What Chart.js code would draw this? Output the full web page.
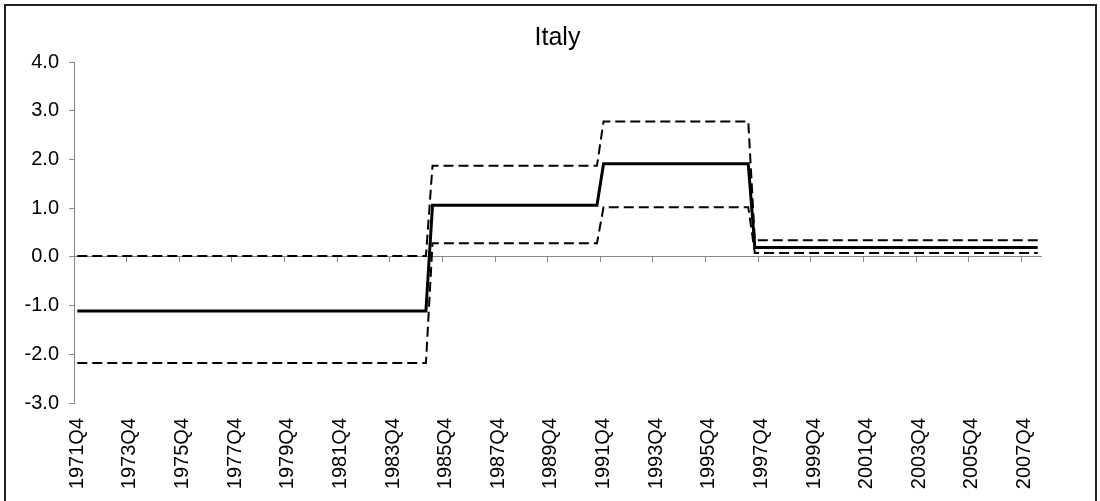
<!DOCTYPE html>
<html><head><meta charset="utf-8">
<script src="https://cdn.jsdelivr.net/npm/chart.js@4.4.1/dist/chart.umd.min.js"></script>
<style>
html,body{margin:0;padding:0;background:#fff;}
#wrap{position:relative;width:1100px;height:501px;overflow:hidden;}
#frame{position:absolute;left:4px;top:4px;width:1089px;height:520px;border:2px solid #222;pointer-events:none;}
canvas{position:absolute;left:0;top:0;}
</style></head><body>
<div id="wrap"><canvas id="c" width="1100" height="501"></canvas><div id="frame"></div></div>
<script>
// Categories: quarters from 1971Q4 to 2008Q2
const startYear = 1971, startQuarter = 4, nQuarters = 147;
const categories = [];
for (let i = 0; i < nQuarters; i++) {
  const q = startQuarter - 1 + i;
  categories.push((startYear + Math.floor(q / 4)) + 'Q' + (q % 4 + 1));
}
const labelEvery = 8;

// Estimate (solid)
const estimate = [
  -1.11,-1.11,-1.11,-1.11,-1.11,-1.11,-1.11,-1.11,-1.11,
  -1.11,-1.11,-1.11,-1.11,-1.11,-1.11,-1.11,-1.11,-1.11,
  -1.11,-1.11,-1.11,-1.11,-1.11,-1.11,-1.11,-1.11,-1.11,
  -1.11,-1.11,-1.11,-1.11,-1.11,-1.11,-1.11,-1.11,-1.11,
  -1.11,-1.11,-1.11,-1.11,-1.11,-1.11,-1.11,-1.11,-1.11,
  -1.11,-1.11,-1.11,-1.11,-1.11,-1.11,-1.11,-1.11,-1.11,
  1.06,1.06,1.06,1.06,1.06,1.06,1.06,1.06,1.06,1.06,1.06,1.06,1.06,
  1.06,1.06,1.06,1.06,1.06,1.06,1.06,1.06,1.06,1.06,1.06,1.06,1.06,
  1.91,1.91,1.91,1.91,1.91,1.91,1.91,1.91,1.91,1.91,1.91,1.91,
  1.91,1.91,1.91,1.91,1.91,1.91,1.91,1.91,1.91,1.91,1.91,
  0.19,0.19,0.19,0.19,0.19,0.19,0.19,0.19,0.19,0.19,0.19,
  0.19,0.19,0.19,0.19,0.19,0.19,0.19,0.19,0.19,0.19,0.19,
  0.19,0.19,0.19,0.19,0.19,0.19,0.19,0.19,0.19,0.19,0.19,
  0.19,0.19,0.19,0.19,0.19,0.19,0.19,0.19,0.19,0.19,0.19
];
// Upper band (dashed)
const upper = [
  0.02,0.02,0.02,0.02,0.02,0.02,0.02,0.02,0.02,
  0.02,0.02,0.02,0.02,0.02,0.02,0.02,0.02,0.02,
  0.02,0.02,0.02,0.02,0.02,0.02,0.02,0.02,0.02,
  0.02,0.02,0.02,0.02,0.02,0.02,0.02,0.02,0.02,
  0.02,0.02,0.02,0.02,0.02,0.02,0.02,0.02,0.02,
  0.02,0.02,0.02,0.02,0.02,0.02,0.02,0.02,0.02,
  1.87,1.87,1.87,1.87,1.87,1.87,1.87,1.87,1.87,1.87,1.87,1.87,1.87,
  1.87,1.87,1.87,1.87,1.87,1.87,1.87,1.87,1.87,1.87,1.87,1.87,1.87,
  2.78,2.78,2.78,2.78,2.78,2.78,2.78,2.78,2.78,2.78,2.78,2.78,
  2.78,2.78,2.78,2.78,2.78,2.78,2.78,2.78,2.78,2.78,2.78,
  0.34,0.34,0.34,0.34,0.34,0.34,0.34,0.34,0.34,0.34,0.34,
  0.34,0.34,0.34,0.34,0.34,0.34,0.34,0.34,0.34,0.34,0.34,
  0.34,0.34,0.34,0.34,0.34,0.34,0.34,0.34,0.34,0.34,0.34,
  0.34,0.34,0.34,0.34,0.34,0.34,0.34,0.34,0.34,0.34,0.34
];
// Lower band (dashed)
const lower = [
  -2.18,-2.18,-2.18,-2.18,-2.18,-2.18,-2.18,-2.18,-2.18,
  -2.18,-2.18,-2.18,-2.18,-2.18,-2.18,-2.18,-2.18,-2.18,
  -2.18,-2.18,-2.18,-2.18,-2.18,-2.18,-2.18,-2.18,-2.18,
  -2.18,-2.18,-2.18,-2.18,-2.18,-2.18,-2.18,-2.18,-2.18,
  -2.18,-2.18,-2.18,-2.18,-2.18,-2.18,-2.18,-2.18,-2.18,
  -2.18,-2.18,-2.18,-2.18,-2.18,-2.18,-2.18,-2.18,-2.18,
  0.28,0.28,0.28,0.28,0.28,0.28,0.28,0.28,0.28,0.28,0.28,0.28,0.28,
  0.28,0.28,0.28,0.28,0.28,0.28,0.28,0.28,0.28,0.28,0.28,0.28,0.28,
  1.02,1.02,1.02,1.02,1.02,1.02,1.02,1.02,1.02,1.02,1.02,1.02,
  1.02,1.02,1.02,1.02,1.02,1.02,1.02,1.02,1.02,1.02,1.02,
  0.08,0.08,0.08,0.08,0.08,0.08,0.08,0.08,0.08,0.08,0.08,
  0.08,0.08,0.08,0.08,0.08,0.08,0.08,0.08,0.08,0.08,0.08,
  0.08,0.08,0.08,0.08,0.08,0.08,0.08,0.08,0.08,0.08,0.08,
  0.08,0.08,0.08,0.08,0.08,0.08,0.08,0.08,0.08,0.08,0.08
];

const yMin = -3, yMax = 4, yStep = 1;
const titleText = 'Italy';
const axisGray = '#868686';
const fontFamily = '"Liberation Sans", Arial, sans-serif';

new Chart(document.getElementById('c'), {
  type: 'line',
  data: {
    labels: categories,
    datasets: [
      { label: 'Estimate', data: estimate, xAxisID: 'x', yAxisID: 'y',
        borderColor: '#000', borderWidth: 3, pointRadius: 0, tension: 0, fill: false },
      { label: 'Upper', data: upper, xAxisID: 'x', yAxisID: 'y',
        borderColor: '#000', borderWidth: 2, borderDash: [10, 5], pointRadius: 0, tension: 0, fill: false },
      { label: 'Lower', data: lower, xAxisID: 'x', yAxisID: 'y',
        borderColor: '#000', borderWidth: 2, borderDash: [10, 5], pointRadius: 0, tension: 0, fill: false }
    ]
  },
  options: {
    responsive: false,
    animation: false,
    devicePixelRatio: 1,
    layout: { padding: { left: 0, right: 59, top: 0, bottom: 0 } },
    plugins: {
      legend: { display: false },
      tooltip: { enabled: false },
      title: {
        display: true, text: titleText, color: '#000', fullSize: false,
        font: { family: fontFamily, size: 25, weight: 'normal' },
        padding: { top: 23, bottom: 9 }
      }
    },
    scales: {
      x: {
        type: 'category', position: 'bottom', offset: true,
        grid: { display: false, drawTicks: false },
        border: { display: false },
        ticks: {
          autoSkip: false, minRotation: 90, maxRotation: 90, padding: 15,
          color: '#000', font: { family: fontFamily, size: 20 },
          callback: function(v, i) { return i % labelEvery === 0 ? categories[i] : ''; }
        },
        afterFit: function(s) { s.height = 98; }
      },
      x2: {
        type: 'category', axis: 'x', position: { y: 0 }, offset: true,
        border: { display: true, color: axisGray, width: 1 },
        grid: {
          offset: true, drawOnChartArea: false, drawTicks: true, tickLength: 5,
          tickColor: function(ctx) { return ctx.index % labelEvery === 0 ? axisGray : 'rgba(0,0,0,0)'; }
        },
        ticks: { display: false }
      },
      y: {
        type: 'linear', position: 'left', min: yMin, max: yMax,
        border: { display: true, color: axisGray, width: 1 },
        grid: { drawOnChartArea: false, drawTicks: true, tickLength: 5, tickColor: axisGray },
        ticks: {
          stepSize: yStep, padding: 10, color: '#000',
          font: { family: fontFamily, size: 20 },
          callback: function(v) { return Number(v).toFixed(1); }
        },
        afterFit: function(s) { s.width = 74; }
      }
    }
  }
});
</script>
</body></html>
